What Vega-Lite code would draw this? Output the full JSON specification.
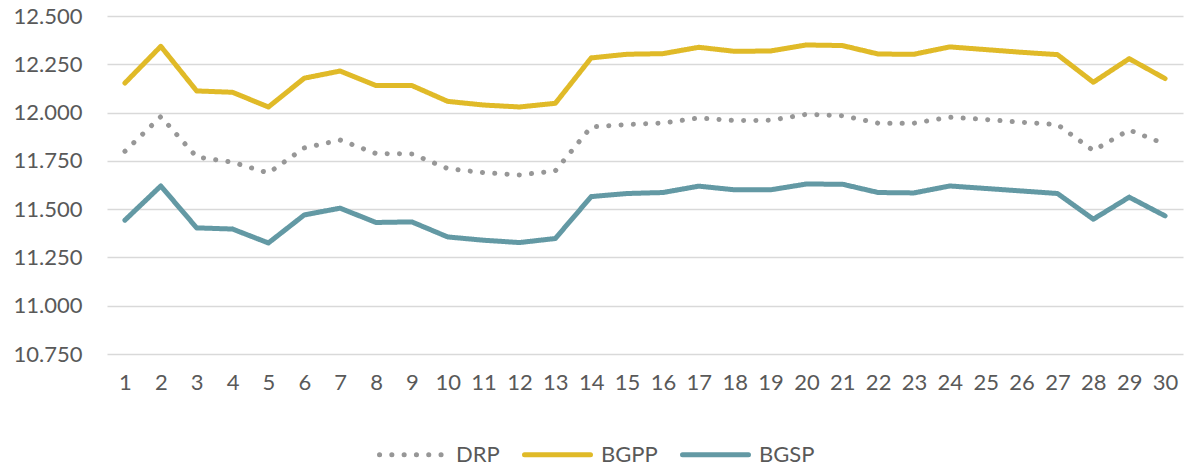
{
  "$schema": "https://vega.github.io/schema/vega-lite/v6.json",
  "autosize": "none",
  "width": 1076,
  "height": 338,
  "padding": {"left": 107, "top": 16, "right": 10, "bottom": 115},
  "background": "white",
  "config": {
    "view": {"stroke": null},
    "font": "Lato",
    "axis": {"labelFont": "Lato", "labelFontSize": 22, "labelColor": "#595959"},
    "legend": {"labelFont": "Lato", "labelFontSize": 22, "labelColor": "#595959"}
  },
  "data": {
    "values": [
      {"d":1,"s":"DRP","v":11.800},{"d":2,"s":"DRP","v":11.979},{"d":3,"s":"DRP","v":11.770},{"d":4,"s":"DRP","v":11.743},{"d":5,"s":"DRP","v":11.687},
      {"d":6,"s":"DRP","v":11.817},{"d":7,"s":"DRP","v":11.858},{"d":8,"s":"DRP","v":11.788},{"d":9,"s":"DRP","v":11.786},{"d":10,"s":"DRP","v":11.710},
      {"d":11,"s":"DRP","v":11.689},{"d":12,"s":"DRP","v":11.677},{"d":13,"s":"DRP","v":11.698},{"d":14,"s":"DRP","v":11.926},{"d":15,"s":"DRP","v":11.938},
      {"d":16,"s":"DRP","v":11.946},{"d":17,"s":"DRP","v":11.972},{"d":18,"s":"DRP","v":11.959},{"d":19,"s":"DRP","v":11.960},{"d":20,"s":"DRP","v":11.991},
      {"d":21,"s":"DRP","v":11.984},{"d":22,"s":"DRP","v":11.945},{"d":23,"s":"DRP","v":11.945},{"d":24,"s":"DRP","v":11.976},{"d":25,"s":"DRP","v":11.964},
      {"d":26,"s":"DRP","v":11.950},{"d":27,"s":"DRP","v":11.938},{"d":28,"s":"DRP","v":11.803},{"d":29,"s":"DRP","v":11.910},{"d":30,"s":"DRP","v":11.837},
      {"d":1,"s":"BGPP","v":12.153},{"d":2,"s":"BGPP","v":12.343},{"d":3,"s":"BGPP","v":12.112},{"d":4,"s":"BGPP","v":12.105},{"d":5,"s":"BGPP","v":12.029},
      {"d":6,"s":"BGPP","v":12.178},{"d":7,"s":"BGPP","v":12.215},{"d":8,"s":"BGPP","v":12.140},{"d":9,"s":"BGPP","v":12.140},{"d":10,"s":"BGPP","v":12.058},
      {"d":11,"s":"BGPP","v":12.039},{"d":12,"s":"BGPP","v":12.029},{"d":13,"s":"BGPP","v":12.048},{"d":14,"s":"BGPP","v":12.283},{"d":15,"s":"BGPP","v":12.302},
      {"d":16,"s":"BGPP","v":12.305},{"d":17,"s":"BGPP","v":12.338},{"d":18,"s":"BGPP","v":12.317},{"d":19,"s":"BGPP","v":12.319},{"d":20,"s":"BGPP","v":12.350},
      {"d":21,"s":"BGPP","v":12.347},{"d":22,"s":"BGPP","v":12.303},{"d":23,"s":"BGPP","v":12.302},{"d":24,"s":"BGPP","v":12.340},{"d":25,"s":"BGPP","v":12.326},
      {"d":26,"s":"BGPP","v":12.312},{"d":27,"s":"BGPP","v":12.300},{"d":28,"s":"BGPP","v":12.157},{"d":29,"s":"BGPP","v":12.279},{"d":30,"s":"BGPP","v":12.176},
      {"d":1,"s":"BGSP","v":11.443},{"d":2,"s":"BGSP","v":11.620},{"d":3,"s":"BGSP","v":11.403},{"d":4,"s":"BGSP","v":11.397},{"d":5,"s":"BGSP","v":11.325},
      {"d":6,"s":"BGSP","v":11.470},{"d":7,"s":"BGSP","v":11.505},{"d":8,"s":"BGSP","v":11.431},{"d":9,"s":"BGSP","v":11.434},{"d":10,"s":"BGSP","v":11.356},
      {"d":11,"s":"BGSP","v":11.339},{"d":12,"s":"BGSP","v":11.327},{"d":13,"s":"BGSP","v":11.348},{"d":14,"s":"BGSP","v":11.565},{"d":15,"s":"BGSP","v":11.581},
      {"d":16,"s":"BGSP","v":11.586},{"d":17,"s":"BGSP","v":11.619},{"d":18,"s":"BGSP","v":11.600},{"d":19,"s":"BGSP","v":11.600},{"d":20,"s":"BGSP","v":11.630},
      {"d":21,"s":"BGSP","v":11.629},{"d":22,"s":"BGSP","v":11.586},{"d":23,"s":"BGSP","v":11.584},{"d":24,"s":"BGSP","v":11.620},{"d":25,"s":"BGSP","v":11.607},
      {"d":26,"s":"BGSP","v":11.594},{"d":27,"s":"BGSP","v":11.581},{"d":28,"s":"BGSP","v":11.448},{"d":29,"s":"BGSP","v":11.562},{"d":30,"s":"BGSP","v":11.465}
    ]
  },
  "mark": {"type": "line", "strokeWidth": 5, "strokeCap": "round", "strokeJoin": "round"},
  "encoding": {
    "x": {
      "field": "d", "type": "ordinal",
      "scale": {"type": "point", "padding": 0.5},
      "axis": {"title": null, "labelAngle": 0, "domain": false, "ticks": false, "tickSize": 0, "grid": false, "labelPadding": 18}
    },
    "y": {
      "field": "v", "type": "quantitative",
      "scale": {"domain": [10.75, 12.5], "nice": false, "zero": false},
      "axis": {
        "title": null, "values": [10.75, 11, 11.25, 11.5, 11.75, 12, 12.25, 12.5],
        "format": ".3f", "domain": false, "ticks": false, "tickSize": 0, "labelPadding": 25,
        "grid": true, "gridColor": "#d9d9d9", "gridWidth": 1.5
      }
    },
    "color": {
      "field": "s", "type": "nominal", "sort": null,
      "scale": {"domain": ["DRP", "BGPP", "BGSP"], "range": ["#979797", "#E0BA28", "#6399A4"]},
      "legend": {
        "title": null, "orient": "none", "direction": "horizontal",
        "legendX": 270, "legendY": 403,
        "symbolType": "M-1,0H1", "symbolSize": 4356, "symbolStrokeWidth": 5,
        "labelOffset": 8, "columnPadding": 14, "labelLimit": 300,
        "encode": {"symbols": {"update": {"strokeCap": {"value": "round"}}}}
      }
    },
    "strokeDash": {
      "field": "s", "type": "nominal", "sort": null,
      "scale": {"domain": ["DRP", "BGPP", "BGSP"], "range": [[0.1, 12.2], [1, 0], [1, 0]]},
      "legend": null
    }
  }
}
